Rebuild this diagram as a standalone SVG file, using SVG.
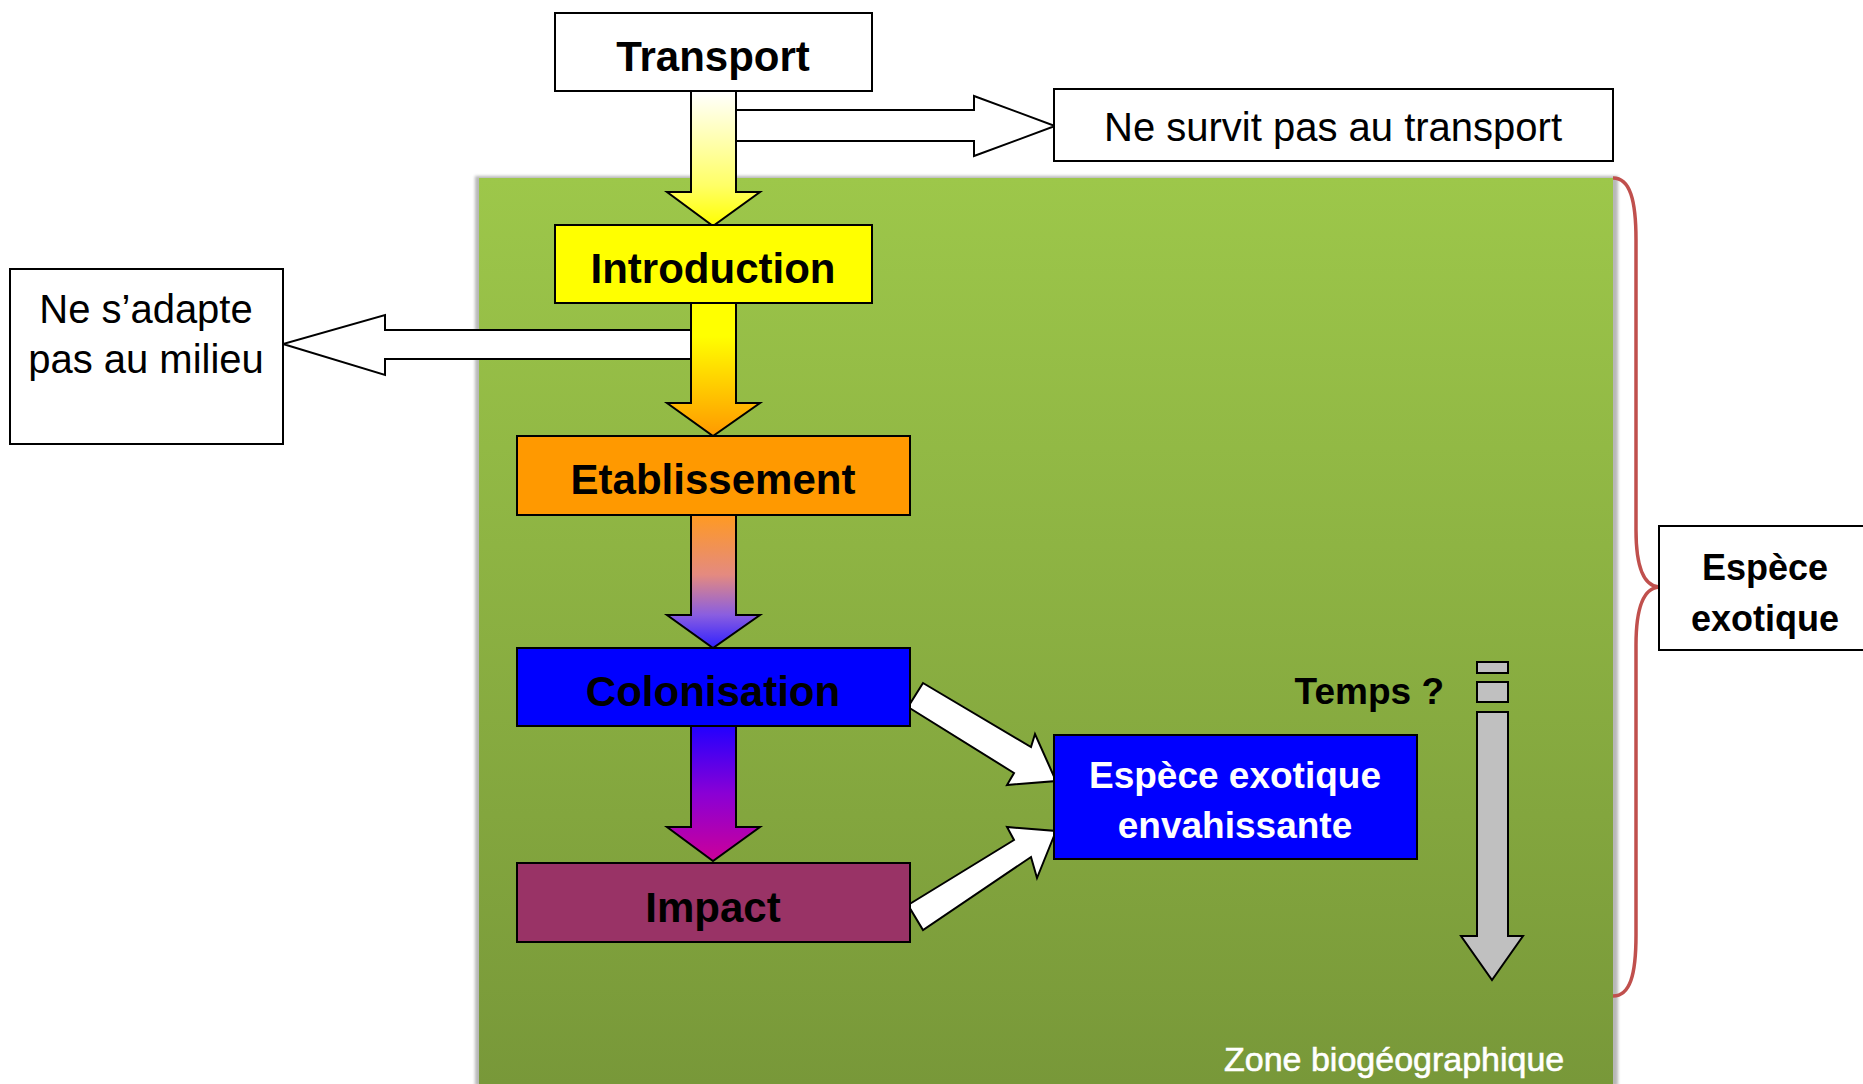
<svg xmlns="http://www.w3.org/2000/svg" width="1863" height="1084" viewBox="0 0 1863 1084">
<style>
.box{stroke:#000;stroke-width:2}
.lbl{font-family:"Liberation Sans",Arial,sans-serif;font-weight:bold;font-size:42px;text-anchor:middle;fill:#000}
.reg{font-family:"Liberation Sans",Arial,sans-serif;font-size:40px;text-anchor:middle;fill:#000}
.arr{stroke:#000;stroke-width:2;stroke-linejoin:miter}
.white{fill:#fff}
</style>
<defs>
<linearGradient id="gZone" x1="0" y1="0" x2="0" y2="1"><stop offset="0" stop-color="#9dc74a"/><stop offset="1" stop-color="#789839"/></linearGradient>
<linearGradient id="g1" x1="0" y1="0" x2="0" y2="1"><stop offset="0" stop-color="#ffffff"/><stop offset="0.7" stop-color="#ffff66"/><stop offset="1" stop-color="#ffff00"/></linearGradient>
<linearGradient id="g2" x1="0" y1="0" x2="0" y2="1"><stop offset="0" stop-color="#ffff00"/><stop offset="0.25" stop-color="#ffff00"/><stop offset="1" stop-color="#ff9900"/></linearGradient>
<linearGradient id="g3" x1="0" y1="0" x2="0" y2="1"><stop offset="0" stop-color="#ff9a22"/><stop offset="0.45" stop-color="#e48a80"/><stop offset="0.75" stop-color="#8a5ee0"/><stop offset="1" stop-color="#3020ff"/></linearGradient>
<linearGradient id="g4" x1="0" y1="0" x2="0" y2="1"><stop offset="0" stop-color="#2200ff"/><stop offset="0.5" stop-color="#8a00d5"/><stop offset="1" stop-color="#cc0099"/></linearGradient>
<filter id="blur" x="-5%" y="-5%" width="110%" height="110%"><feGaussianBlur stdDeviation="1.5"/></filter>
</defs>

<g id="zone">
<rect x="475" y="176" width="1143" height="910" fill="#b8b8b8" filter="url(#blur)"/>
<rect x="479" y="178" width="1134" height="906" fill="url(#gZone)"/>
<text x="1224" y="1071" style="font-family:'Liberation Sans',Arial,sans-serif;font-size:34px;fill:#fff;stroke:#fff;stroke-width:0.6">Zone biogéographique</text>
</g>

<g id="connectors">
<polygon class="arr white" points="725,110 974,110 974,96 1055,126 974,156 974,141 725,141"/>
<polygon class="arr white" points="700,330 385,330 385,315 283,344 385,375 385,359 700,359"/>
<polygon class="arr" fill="url(#g1)" points="691,91 736,91 736,192 760,192 713,226 667,192 691,192"/>
<polygon class="arr" fill="url(#g2)" points="691,303 736,303 736,403 760,403 713,436 667,403 691,403"/>
<polygon class="arr" fill="url(#g3)" points="691,515 736,515 736,615 760,615 713,648 667,615 691,615"/>
<polygon class="arr" fill="url(#g4)" points="691,726 736,726 736,827 760,827 713,861 667,827 691,827"/>
<polygon class="arr white" points="923,683 1031,747 1035,734 1056,781 1007,785 1014,773 908,707"/>
<polygon class="arr white" points="908,905 1014,840 1007,827 1056,831 1037,878 1031,857 923,930"/>
<path d="M1613,178 C1630,178 1636,200 1636,240 L1636,530 C1636,570 1645,586 1659,587 C1645,588 1636,605 1636,645 L1636,935 C1636,975 1630,996 1613,996" fill="none" stroke="#c0504d" stroke-width="3.5"/>
</g>

<g id="temps">
<rect x="1477" y="662" width="31" height="11" fill="#c0c0c0" class="arr"/>
<rect x="1477" y="682" width="31" height="20" fill="#c0c0c0" class="arr"/>
<polygon class="arr" fill="#c0c0c0" points="1477,712 1508,712 1508,936 1523,936 1492,980 1461,936 1477,936"/>
<text x="1444" y="704" class="lbl" style="font-size:37px;text-anchor:end">Temps ?</text>
</g>

<g id="transport">
<rect class="box" x="555" y="13" width="317" height="78" fill="#fff"/>
<text class="lbl" x="713" y="71">Transport</text>
</g>
<g id="ne-survit">
<rect class="box" x="1054" y="89" width="559" height="72" fill="#fff"/>
<text class="reg" x="1333" y="141">Ne survit pas au transport</text>
</g>
<g id="ne-adapte">
<rect class="box" x="10" y="269" width="273" height="175" fill="#fff"/>
<text class="reg" x="146" y="323">Ne s’adapte</text>
<text class="reg" x="146" y="373">pas au milieu</text>
</g>
<g id="introduction">
<rect class="box" x="555" y="225" width="317" height="78" fill="#ffff00"/>
<text class="lbl" x="713" y="283">Introduction</text>
</g>
<g id="etablissement">
<rect class="box" x="517" y="436" width="393" height="79" fill="#ff9900"/>
<text class="lbl" x="713" y="494">Etablissement</text>
</g>
<g id="colonisation">
<rect class="box" x="517" y="648" width="393" height="78" fill="#0000ff"/>
<text class="lbl" x="713" y="706">Colonisation</text>
</g>
<g id="impact">
<rect class="box" x="517" y="863" width="393" height="79" fill="#993366"/>
<text class="lbl" x="713" y="922">Impact</text>
</g>
<g id="eee">
<rect class="box" x="1054" y="735" width="363" height="124" fill="#0000ff"/>
<text class="lbl" x="1235" y="788" style="font-size:37px;fill:#fff">Espèce exotique</text>
<text class="lbl" x="1235" y="838" style="font-size:37px;fill:#fff">envahissante</text>
</g>
<g id="espece-exotique">
<rect class="box" x="1659" y="526" width="215" height="124" fill="#fff"/>
<text class="lbl" x="1765" y="580" style="font-size:36px">Espèce</text>
<text class="lbl" x="1765" y="631" style="font-size:36px">exotique</text>
</g>
</svg>
